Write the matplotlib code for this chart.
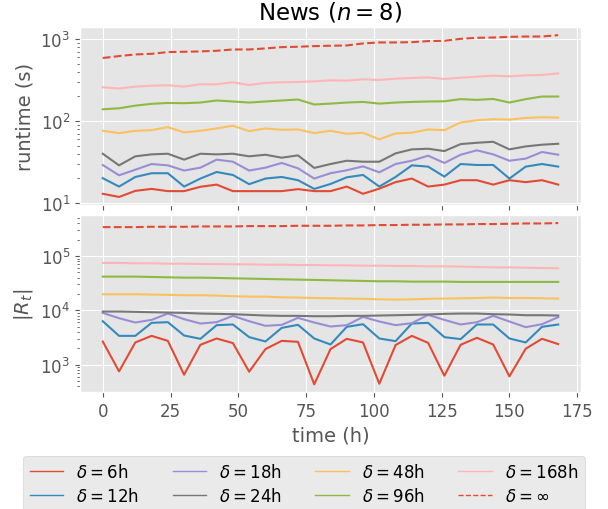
import matplotlib
matplotlib.use("Agg")
import matplotlib.pyplot as plt

plt.style.use("ggplot")

hours = list(range(0, 169, 6))

labels = [r"$\delta=6$h", r"$\delta=12$h", r"$\delta=18$h", r"$\delta=24$h",
          r"$\delta=48$h", r"$\delta=96$h", r"$\delta=168$h", r"$\delta=\infty$"]

rt_6 = [12.9, 11.8, 14.0, 14.8, 13.9, 13.9, 15.7, 16.7, 13.9, 13.9, 13.9, 13.9, 14.7, 13.9, 13.9,
        15.8, 12.9, 14.9, 17.9, 19.8, 15.8, 16.7, 18.9, 18.9, 16.7, 18.9, 17.9, 18.9, 16.7]
rt_12 = [20.0, 15.8, 20.7, 23.0, 23.0, 15.8, 19.8, 23.8, 21.9, 16.9, 19.8, 20.7, 18.9, 14.8, 17.0,
         20.5, 21.9, 15.8, 20.7, 28.7, 27.7, 20.9, 29.8, 29.0, 29.0, 19.8, 27.7, 29.8, 27.7]
rt_18 = [29.0, 21.7, 25.4, 29.8, 28.7, 24.8, 26.9, 33.7, 31.8, 24.8, 26.9, 30.7, 26.4, 19.8, 23.0,
         25.0, 27.9, 23.6, 29.8, 32.7, 37.7, 30.7, 38.7, 43.8, 39.1, 32.7, 34.7, 41.8, 38.7]
rt_24 = [39.8, 28.7, 37.0, 39.1, 39.8, 33.7, 39.8, 39.1, 39.8, 37.0, 38.7, 35.6, 38.0, 26.7, 29.8,
         32.7, 31.8, 31.8, 40.2, 45.0, 45.8, 42.9, 52.2, 54.2, 55.7, 45.0, 48.9, 51.3, 52.7]
rt_48 = [75.9, 71.1, 75.9, 77.3, 84.1, 72.5, 75.9, 81.1, 87.4, 75.2, 81.1, 78.0, 78.8, 71.1, 75.9,
         69.8, 71.8, 59.6, 70.5, 71.8, 78.8, 77.3, 95.9, 102, 105, 104, 109, 111, 110]
rt_96 = [139, 143, 154, 162, 166, 165, 168, 178, 173, 168, 173, 178, 183, 159, 163,
         168, 171, 163, 168, 171, 173, 174, 185, 181, 186, 168, 185, 199, 199]
rt_168 = [258, 249, 263, 270, 273, 263, 281, 281, 297, 275, 292, 297, 300, 305, 314,
          311, 323, 317, 329, 335, 341, 326, 338, 348, 358, 351, 361, 365, 382]
rt_inf = [588, 621, 650, 662, 695, 701, 708, 721, 748, 748, 770, 799, 807, 822, 830,
          837, 886, 911, 911, 919, 946, 955, 1009, 1038, 1047, 1067, 1077, 1077, 1119]

rs_6 = [2680, 755, 2570, 3400, 2750, 656, 2330, 3040, 2500, 745, 1940, 2750, 2640, 436, 1940,
        3000, 2570, 448, 2300, 3400, 2530, 628, 2330, 3130, 2360, 611, 1970, 3000, 2400]
rs_12 = [6320, 3400, 3400, 5900, 6070, 3450, 3000, 5350, 5500, 3220, 2680, 4770, 5420, 3040, 2360,
         4980, 5570, 3040, 2720, 5730, 5900, 3220, 2960, 5500, 5500, 3040, 2570, 4980, 5500]
rs_18 = [9000, 7180, 5980, 6690, 8750, 6890, 5730, 6070, 7930, 6320, 5200, 5420, 7280, 5980, 5050,
         5350, 7600, 6240, 5350, 5820, 8270, 6690, 5500, 6070, 7930, 6240, 4910, 5570, 7500]
rs_24 = [9530, 9530, 9400, 9250, 9120, 9000, 8750, 8630, 8510, 8270, 8040, 7930, 7930, 7810, 7810,
         7930, 7930, 8040, 8150, 8270, 8400, 8630, 8750, 8750, 8510, 8400, 8150, 8150, 8040]
rs_48 = [19800, 19800, 19800, 19500, 19300, 19000, 19000, 18700, 18200, 17900, 17900, 17400, 17200,
         16900, 16700, 16500, 16300, 16000, 15800, 16000, 16300, 16500, 16700, 16900, 17200, 16900,
         16900, 16700, 16500]
rs_96 = [41800, 41800, 41800, 41200, 40600, 40000, 40000, 39500, 38900, 38400, 37800, 37300, 36800,
         36300, 35800, 35300, 34800, 34300, 34300, 33800, 33800, 33800, 33400, 33400, 33400, 33400,
         33400, 33400, 33400]
rs_168 = [74500, 74500, 73400, 73400, 72300, 72300, 71300, 71300, 70300, 70300, 69300, 69300, 68300,
          68300, 67400, 67400, 66500, 66500, 65600, 65600, 64600, 64600, 63700, 62800, 61900, 61900,
          61100, 60200, 59400]
rs_inf = [340000, 340000, 340000, 345000, 345000, 345000, 350000, 350000, 350000, 355000, 355000,
          355000, 360000, 360000, 360000, 365000, 365000, 371000, 371000, 376000, 376000, 381000,
          381000, 387000, 387000, 392000, 397000, 397000, 404000]

runtimes = [rt_6, rt_12, rt_18, rt_24, rt_48, rt_96, rt_168, rt_inf]
sizes = [rs_6, rs_12, rs_18, rs_24, rs_48, rs_96, rs_168, rs_inf]
colors = ["#E24A33", "#348ABD", "#988ED5", "#777777", "#FBC15E", "#8EBA42", "#FFB5B8", "#E24A33"]
styles = ["-"] * 7 + ["--"]

fig = plt.figure(figsize=(6.08, 5.10), dpi=100)
left, width = 0.1316, 0.824
ax1 = fig.add_axes([left, 0.596, width, 0.349])
ax2 = fig.add_axes([left, 0.2286, width, 0.3479], sharex=ax1)

handles = []
for rt, rs, c, ls, lab in zip(runtimes, sizes, colors, styles, labels):
    h, = ax1.plot(hours, rt, color=c, ls=ls, lw=1.5, label=lab)
    ax2.plot(hours, rs, color=c, ls=ls, lw=1.5)
    handles.append(h)

for ax in (ax1, ax2):
    ax.set_yscale("log")
    ax.tick_params(labelsize=12)
plt.setp(ax1.get_xticklabels(), visible=False)

ax1.set_title(r"News ($n=8$)", fontsize=16.5)
ax1.set_ylabel("runtime (s)", fontsize=14)
ax2.set_ylabel(r"$|R_t|$", fontsize=14)
ax2.set_xlabel("time (h)", fontsize=14)
ax2.set_xticks([0, 25, 50, 75, 100, 125, 150, 175])

leg = fig.legend(handles=handles, loc="upper center", bbox_to_anchor=(0.5, 0.104),
                 ncol=4, fontsize=12, frameon=True, borderaxespad=0.0, labelspacing=0.4)
for ln in leg.get_lines():
    ln.set_linewidth(1.0)

fig.savefig("out.png", dpi=100)
